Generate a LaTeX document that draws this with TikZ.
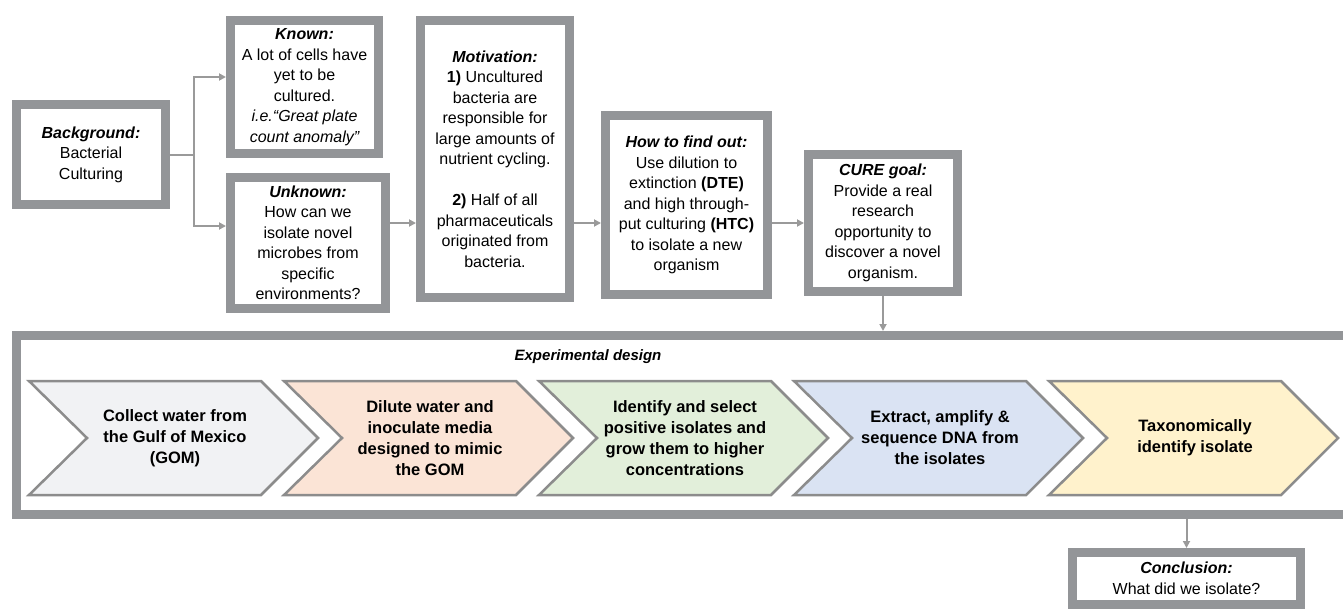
\documentclass[tikz,border=0pt]{standalone}
\usepackage{fontspec}
\setmainfont{Liberation Sans}
\usepackage{xcolor}
\usepackage{tikz}
\usetikzlibrary{arrows.meta}
\usetikzlibrary{calc}
\definecolor{boxgray}{HTML}{939598}
\definecolor{linegray}{HTML}{9A9A9A}
\definecolor{chevgray}{HTML}{8C8C8C}
\definecolor{fillgom}{HTML}{F1F2F4}
\definecolor{filldil}{HTML}{FBE4D6}
\definecolor{fillsel}{HTML}{E2EFDA}
\definecolor{fillseq}{HTML}{DAE3F3}
\definecolor{filltax}{HTML}{FFF2CC}

\begin{document}
\begin{tikzpicture}[x=1pt, y=-1pt,
  info/.style={draw=boxgray, line width=9pt, fill=white, align=center, inner sep=0pt, font=\fontsize{16}{20.5}\selectfont},
  link/.style={draw=linegray, line width=2pt, -{Triangle[length=7pt,width=7pt]}},
  chev/.style={draw=chevgray, line width=2.5pt, line join=miter},
  chevtext/.style={align=center, inner sep=0pt, font=\bfseries\fontsize{16.5}{21}\selectfont}]
  \useasboundingbox (0,0) rectangle (1343,610);

  \node[info, minimum width=149pt, minimum height=100pt] (bg) at (91,154.5) {\textbf{\textit{Background:}}\\Bacterial\\Culturing};
  \node[info, minimum width=148pt, minimum height=133pt] (known) at (304.5,87) {\textbf{\textit{Known:}}\\A lot of cells have\\yet to be\\cultured.\\{\itshape i.e.“Great plate}\\{\itshape count anomaly”}};
  \node[info, minimum width=155pt, minimum height=131pt] (unknown) at (308,243) {\textbf{\textit{Unknown:}}\\How can we\\isolate novel\\microbes from\\specific\\environments?};
  \node[info, minimum width=149pt, minimum height=277pt] (motiv) at (495,159) {\textbf{\textit{Motivation:}}\\\textbf{1)} Uncultured\\bacteria are\\responsible for\\large amounts of\\nutrient cycling.\\[20.5pt]\textbf{2)} Half of all\\pharmaceuticals\\originated from\\bacteria.};
  \node[info, minimum width=162pt, minimum height=179pt] (howto) at (686.5,205) {\textbf{\textit{How to find out:}}\\Use dilution to\\extinction \textbf{(DTE)}\\and high through-\\put culturing \textbf{(HTC)}\\to isolate a new\\organism};
  \node[info, minimum width=149pt, minimum height=137pt] (cure) at (883,223) {\textbf{\textit{CURE goal:}}\\Provide a real\\research\\opportunity to\\discover a novel\\organism.};

  \node[draw=boxgray, line width=9pt, inner sep=0pt, minimum width=1331pt, minimum height=179pt] (expdesign) at (682,425) {};
  \node[font=\bfseries\itshape\fontsize{15}{18}\selectfont] (exptitle) at (588,357) {Experimental design};

  \foreach \i/\col in {0/fillgom,1/filldil,2/fillsel,3/fillseq,4/filltax}{
    \pgfmathsetmacro\L{29+255*\i}
    \draw[chev, fill=\col] (\L,381) -- ++(232,0) -- ++(57,57) -- ++(-57,57) -- ++(-232,0) -- ++(58,-57) -- cycle;
  }
  \node[chevtext] (gom) at (175,438) {Collect water from\\the Gulf of Mexico\\(GOM)};
  \node[chevtext] (dilute) at (430,438) {Dilute water and\\inoculate media\\designed to mimic\\the GOM};
  \node[chevtext] (select) at (685,438) {Identify and select\\positive isolates and\\grow them to higher\\concentrations};
  \node[chevtext] (dna) at (940,438) {Extract, amplify \&\\sequence DNA from\\the isolates};
  \node[chevtext] (taxon) at (1195,438) {Taxonomically\\identify isolate};

  \node[info, minimum width=228pt, minimum height=52pt] (concl) at (1186.5,578.5) {\textbf{\textit{Conclusion:}}\\What did we isolate?};

  \coordinate (split) at (194,154.5);
  \draw[draw=linegray, line width=2pt] (bg.east) -- (split);
  \draw[link] (split) |- ([yshift=10pt]known.west);
  \draw[link] (split) |- ([yshift=17pt]unknown.west);
  \draw[link] (unknown.east |- cure.west) -- (motiv.west |- cure.west);
  \draw[link] (motiv.east |- cure.west) -- (howto.west |- cure.west);
  \draw[link] (howto.east |- cure.west) -- (cure.west);
  \draw[link] (cure.south) -- (cure.south |- expdesign.north);
  \draw[link] (concl.north |- expdesign.south) -- (concl.north);
\end{tikzpicture}
\end{document}
